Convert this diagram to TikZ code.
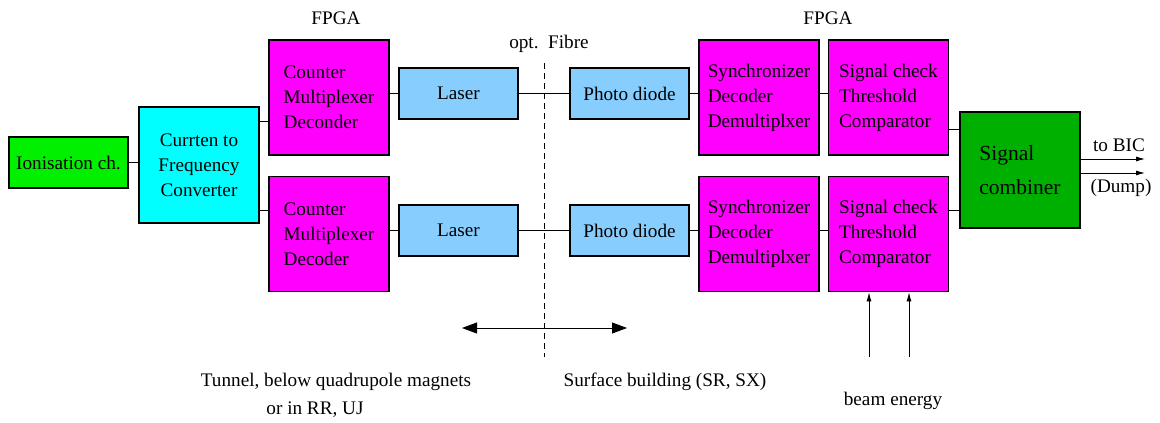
\documentclass[tikz,border=0pt]{standalone}
\usepackage{fontspec}
\setmainfont{Liberation Serif}
\usetikzlibrary{arrows.meta,calc}
\definecolor{ionG}{RGB}{0,240,0}
\definecolor{combG}{RGB}{0,176,0}
\definecolor{ltblue}{RGB}{135,206,255}
\definecolor{magbox}{RGB}{255,0,255}
\definecolor{cybox}{RGB}{0,255,255}
\tikzset{
  box/.style={draw=black, line width=1.8pt, align=left, inner sep=0pt,
    font=\fontsize{19.2}{25}\selectfont},
  bigbox/.style={box, minimum width=120pt, minimum height=115pt},
  smallbox/.style={box, minimum width=119pt, minimum height=51pt},
  wire/.style={draw=black, line width=0.8pt},
  lbl/.style={font=\fontsize{19.2}{25}\selectfont, inner sep=0pt},
  smallarrow/.style={wire, -{Latex[length=9pt,width=5pt]}}
}
\begin{document}
\begin{tikzpicture}[x=1pt,y=-1pt]
\useasboundingbox[fill=white] (0,0) rectangle (1160,423);

% boxes
\node[smallbox, fill=ionG] (ion) at (68.5,162.5) {Ionisation ch.};
\node[bigbox, fill=cybox, minimum height=116pt, align=center] (conv) at (199,165) {Currten to\\Frequency\\Converter};
\node[bigbox, fill=magbox] (m1) at (329,97.5) {Counter\\Multiplexer\\Deconder};
\node[bigbox, fill=magbox] (m2) at (329,234) {Counter\\Multiplexer\\Decoder};
\node[smallbox, fill=ltblue] (l1) at (458.5,93.5) {Laser};
\node[smallbox, fill=ltblue] (l2) at (458.5,230.5) {Laser};
\node[smallbox, fill=ltblue] (p1) at (629.5,93.5) {Photo diode};
\node[smallbox, fill=ltblue] (p2) at (629.5,230.5) {Photo diode};
\node[bigbox, fill=magbox] (s1) at (759,97.5) {Synchronizer\\Decoder\\Demultiplxer};
\node[bigbox, fill=magbox] (s2) at (759,234) {Synchronizer\\Decoder\\Demultiplxer};
\node[bigbox, fill=magbox] (c1) at (888.5,97.5) {Signal check\\Threshold\\Comparator};
\node[bigbox, fill=magbox] (c2) at (888.5,234) {Signal check\\Threshold\\Comparator};
\node[bigbox, fill=combG, minimum height=116pt, font=\fontsize{21.5}{34}\selectfont] (comb) at (1020,170) {Signal\\combiner};

% labels
\node[lbl] (fpga1) at (336,18) {FPGA};
\node[lbl] (fpga2) at (828,18) {FPGA};
\node[lbl] (fibre) at (549,44) {opt.\ \ Fibre};
\node[lbl] (bic) at (1119,145) {to BIC};
\node[lbl] (dump) at (1121,188) {(Dump)};
\node[lbl] (tunnel) at (336,382) {Tunnel, below quadrupole magnets};
\node[lbl] (rruj) at (315,410) {or in RR, UJ};
\node[lbl] (surf) at (665,382) {Surface building (SR, SX)};
\node[lbl] (beam) at (893,401) {beam energy};

% coordinates
\coordinate (f1) at (544,63);
\coordinate (f2) at (544,357);
\coordinate (da1) at (462,328);
\coordinate (da2) at (627,328);
\coordinate (be1) at (869,357);
\coordinate (be2) at (909,357);
\coordinate (bic1) at (1145,159);
\coordinate (bic2) at (1145,173);

% connectors
\draw[wire] (ion.east) -- (ion.east -| conv.west);
\draw[wire] ([yshift=-15pt]conv.north east) -- ([yshift=-15pt]conv.north east -| m1.west);
\draw[wire] ([yshift=14pt]conv.south east) -- ([yshift=14pt]conv.south east -| m2.west);
\draw[wire] (l1.west -| m1.east) -- (l1.west);
\draw[wire] (l2.west -| m2.east) -- (l2.west);
\draw[wire] (l1.east) -- (p1.west);
\draw[wire] (l2.east) -- (p2.west);
\draw[wire] (p1.east) -- (p1.east -| s1.west);
\draw[wire] (p2.east) -- (p2.east -| s2.west);
\draw[wire] (p1.east -| s1.east) -- (p1.east -| c1.west);
\draw[wire] (p2.east -| s2.east) -- (p2.east -| c2.west);
\draw[wire] ([yshift=-18pt]comb.north west -| c1.east) -- ([yshift=-18pt]comb.north west);
\draw[wire] ([yshift=19pt]comb.south west -| c2.east) -- ([yshift=19pt]comb.south west);
\draw[smallarrow] (comb.east |- bic1) -- (bic1);
\draw[smallarrow] (comb.east |- bic2) -- (bic2);
\draw[smallarrow] (be1) -- (be1 |- c2.south);
\draw[smallarrow] (be2) -- (be2 |- c2.south);
\draw[wire, {Triangle[length=15pt,width=11pt]}-{Triangle[length=15pt,width=11pt]}] (da1) -- (da2);
\draw[draw=black, line width=0.8pt, dash pattern=on 6pt off 4pt] (f1) -- (f2);
\end{tikzpicture}
\end{document}
